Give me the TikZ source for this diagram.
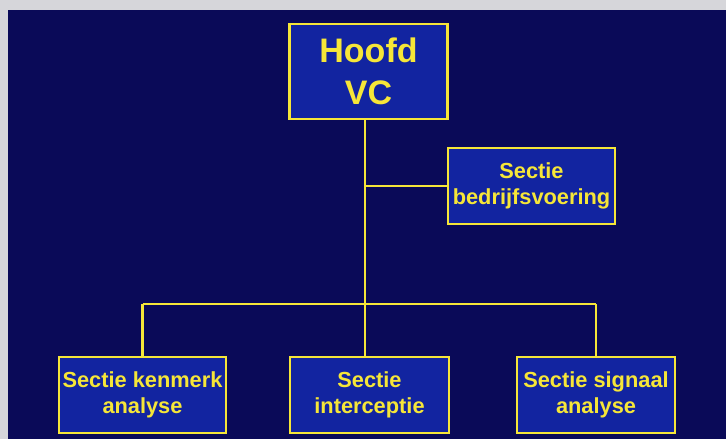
\documentclass[tikz,border=0pt]{standalone}
\usepackage{fontspec}
\setmainfont{Liberation Sans}
\definecolor{pagegray}{HTML}{D6D6DA}
\definecolor{navybg}{HTML}{0A0A58}
\definecolor{boxblue}{HTML}{1224A0}
\definecolor{ylw}{HTML}{F6E638}
\begin{document}
\begin{tikzpicture}[x=1pt,y=-1pt,
  orgbox/.style={draw=ylw,line width=2.4pt,fill=boxblue,text=ylw,inner sep=0pt,
    align=center,font=\bfseries\fontsize{21.8}{26}\selectfont,
    minimum height=76pt},
  link/.style={draw=ylw,line width=2.4pt}]
  \useasboundingbox (0,0) rectangle (726,439);
  \fill[pagegray] (0,0) rectangle (726,439);
  \fill[navybg] (8,10) rectangle (726,439);
  \node[orgbox,minimum width=158pt,minimum height=95pt,
    font=\bfseries\fontsize{34}{42}\selectfont] (hoofd) at (368.5,71.5) {Hoofd\\VC};
  \node[orgbox,minimum width=167pt] (bedr) at (531.5,186) {Sectie\\bedrijfsvoering};
  \node[orgbox,minimum width=167pt] (kenm) at (142.5,395) {Sectie kenmerk\\analyse};
  \node[orgbox,minimum width=159pt] (inter) at (369.5,395) {Sectie\\interceptie};
  \node[orgbox,minimum width=158pt] (sign) at (596,395) {Sectie signaal\\analyse};
  \coordinate (j1) at (365,186);
  \coordinate (j2) at (365,304);
  \draw[link] (j2 |- hoofd.south) -- (j2);
  \draw[link] (j1) -- (bedr.west);
  \draw[link] (kenm.north |- j2) -- (sign.north |- j2);
  \draw[link] (kenm.north |- j2) -- (kenm.north);
  \draw[link] (j2) -- (j2 |- inter.north);
  \draw[link] (sign.north |- j2) -- (sign.north);
\end{tikzpicture}
\end{document}
